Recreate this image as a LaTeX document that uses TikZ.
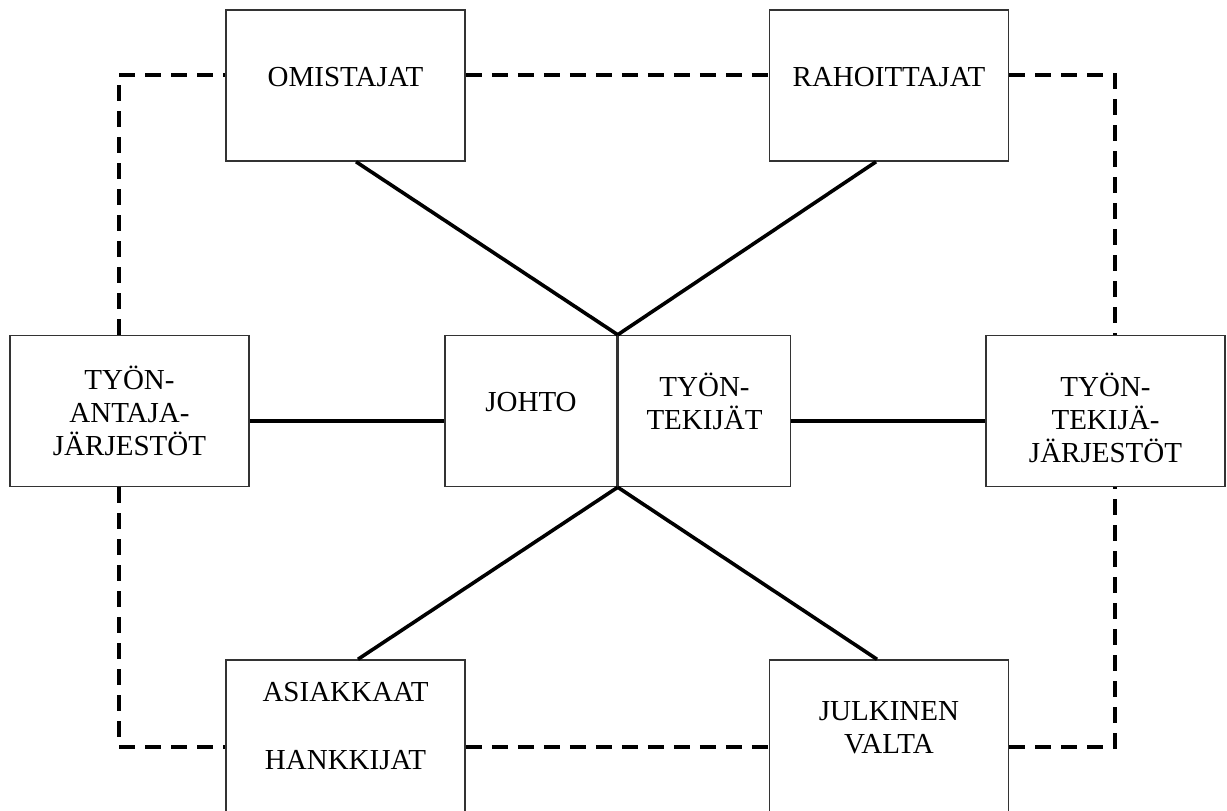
\documentclass[tikz,border=0pt]{standalone}
\usepackage{fontspec}
\setmainfont{Liberation Serif}
\usepackage{tikz}
\usetikzlibrary{positioning}

\tikzset{
	box/.style={draw=black!80, line width=0.75pt, minimum width=119.5pt, minimum height=75.5pt, inner sep=0pt},
	midbox/.style={box, minimum width=86pt},
	lowbox/.style={box, minimum height=80pt},
	boxtext/.style={align=center, font=\fontsize{14.5}{16.5}\selectfont, inner sep=0pt},
	tie/.style={line width=1.8pt},
	loose/.style={line width=2pt, dash pattern=on 8pt off 5pt},
}

\begin{document}
\begin{tikzpicture}[x=0.5pt, y=-0.5pt]
	\useasboundingbox (0,0) rectangle (1227,810);

	% Top row
	\node[box, label={[boxtext, yshift=4.25pt]center:OMISTAJAT}] (omistajat) at (345.5, 85.5) {};
	\node[box, label={[boxtext, yshift=4.25pt]center:RAHOITTAJAT}] (rahoittajat) at (889, 85.5) {};

	% Middle row
	\node[box, label={[boxtext]center:TYÖN-\\ANTAJA-\\JÄRJESTÖT}] (antajat) at (129.5, 411) {};
	\node[midbox, label={[boxtext, yshift=4.5pt]center:JOHTO}] (johto) at (531, 411) {};
	\node[midbox, right=0pt of johto, label={[boxtext, yshift=5pt]center:TYÖN-\\TEKIJÄT}] (tekijat) {};
	\node[box, label={[boxtext, yshift=-3.5pt]center:TYÖN-\\TEKIJÄ-\\JÄRJESTÖT}] (tekijajarj) at (1105.5, 411) {};

	% Bottom row, running off the lower edge
	\node[lowbox, label={[boxtext, yshift=7pt]center:ASIAKKAAT\\[17.5pt]HANKKIJAT}] (asiakkaat) at (345.5, 740) {};
	\node[lowbox, label={[boxtext, yshift=6.25pt]center:JULKINEN\\VALTA}] (julkinen) at (889, 740) {};

	% Solid ties to the centre
	\draw[tie] ([xshift=5.25pt]omistajat.south) -- (johto.north east);
	\draw[tie] ([xshift=-6.5pt]rahoittajat.south) -- (johto.north east);
	\draw[tie] ([xshift=6.25pt]asiakkaat.north) -- (johto.south east);
	\draw[tie] ([xshift=-6pt]julkinen.north) -- (johto.south east);
	\draw[tie] ([yshift=-5pt]antajat.east) -- ([yshift=-5pt]johto.west);
	\draw[tie] ([yshift=-5pt]tekijat.east) -- ([yshift=-5pt]tekijajarj.west);

	% Dashed ring round the outside
	\draw[loose] ([xshift=-5.25pt]antajat.north) |- ([yshift=5.25pt]omistajat.west);
	\draw[loose] ([yshift=5.25pt]omistajat.east) -- ([yshift=5.25pt]rahoittajat.west);
	\draw[loose] ([yshift=5.25pt]rahoittajat.east) -| ([xshift=4.75pt]tekijajarj.north);
	\draw[loose] ([xshift=-5.25pt]antajat.south) |- ([yshift=-3.5pt]asiakkaat.west);
	\draw[loose] ([yshift=-3.5pt]asiakkaat.east) -- ([yshift=-3.5pt]julkinen.west);
	\draw[loose] ([yshift=-3.5pt]julkinen.east) -| ([xshift=4.75pt]tekijajarj.south);
\end{tikzpicture}
\end{document}
